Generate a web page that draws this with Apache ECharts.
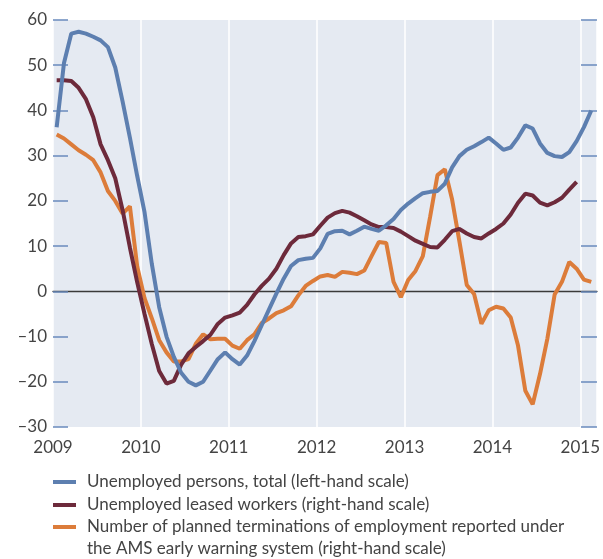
<!DOCTYPE html>
<html>
<head>
<meta charset="utf-8">
<script src="https://cdn.jsdelivr.net/npm/echarts@6/dist/echarts.min.js"></script>
<style>
    html, body { margin: 0; padding: 0; background: #fff; }
    #chart { width: 603px; height: 559px; }
</style>
</head>
<body>
<div id="chart"></div>
<script>
// monthly data, Jan 2009 - Feb 2015
var startYear = 2009;
var monthCount = 74;

var unemployedTotal = [
    36.3, 50.5, 57, 57.4, 57, 56.3, 55.5, 54, 49.5, 42, 34, 25.5,
    17.5, 6, -3.5, -10, -14.5, -18, -20, -20.8, -20, -17.5, -15, -13.5,
    -15, -16.2, -14.2, -11, -7.5, -4, -0.5, 2.8, 5.6, 6.9, 7.2, 7.4,
    9.5, 12.7, 13.3, 13.4, 12.6, 13.4, 14.3, 13.8, 13.4, 14.6, 16, 18,
    19.4, 20.6, 21.7, 22, 22.2, 23.8, 27.4, 29.9, 31.3, 32.1, 33, 34,
    32.7, 31.3, 31.8, 34, 36.7, 36, 32.7, 30.6, 29.9, 29.7, 30.8, 33.2,
    36.3, 40
];

var leasedWorkers = [
    46.7, 46.7, 46.5, 45, 42.5, 38.5, 32.5, 29, 25, 18, 9.7, 2,
    -5, -11.7, -17.6, -20.4, -19.8, -16.2, -13.7, -12.3, -11, -9.6, -7.2, -5.8,
    -5.3, -4.7, -3, -0.7, 1.2, 2.8, 5, 8, 10.6, 12, 12.2, 12.6,
    14.5, 16.3, 17.3, 17.8, 17.4, 16.6, 15.7, 14.8, 14.2, 14.2, 14, 13.2,
    12.2, 11.2, 10.5, 9.8, 9.7, 11.4, 13.3, 13.8, 12.8, 12, 11.7, 12.8,
    13.8, 15, 17, 19.6, 21.6, 21.2, 19.6, 19, 19.7, 20.7, 22.5, 24.2,
    null, null
];

var plannedTerminations = [
    34.7, 33.8, 32.5, 31.2, 30.2, 29, 26.3, 22.2, 20, 17.2, 18.8, 5.5,
    -1.5, -6, -10.8, -13.5, -15.5, -15.5, -15, -11.6, -9.5, -10.6, -10.5, -10.5,
    -12, -12.7, -10.8, -9.5, -7, -6, -4.8, -4.2, -3.3, -0.9, 1.2, 2.3,
    3.3, 3.6, 3.2, 4.3, 4.1, 3.8, 4.6, 7.8, 10.9, 10.7, 2.1, -1.3,
    2.5, 4.5, 7.8, 16.5, 25.7, 27, 20.3, 11, 1.4, -0.6, -7.2, -4.2,
    -3.4, -3.8, -5.8, -12, -22, -25, -18.3, -10.5, -0.7, 2.1, 6.5, 5,
    2.6, 2.1
];

var legendNames = [
    'Unemployed persons, total (left-hand scale)',
    'Unemployed leased workers (right-hand scale)',
    'Number of planned terminations of employment reported under',
    'the AMS early warning system (right-hand scale)'
];

var colors = ['#5d7fb0', '#6d2a3b', '#dc7c3a'];
var fontFamily = 'Lato, "Open Sans", sans-serif';
var textColor = '#444';

// x position of each month = middle of the month, in decimal years
var monthPos = [];
for (var i = 0; i < monthCount; i++) {
    monthPos.push(startYear + (i + 0.5) / 12);
}

function toPoints(values) {
    return values.map(function (v, i) {
        return [monthPos[i], v];
    });
}

var chart = echarts.init(document.getElementById('chart'), null, { renderer: 'canvas' });

var lineDefaults = {
    type: 'line',
    symbol: 'none',
    smooth: false,
    animation: false,
    connectNulls: false
};

chart.setOption({
    backgroundColor: '#fff',
    animation: false,
    grid: {
        show: true,
        left: 53,
        right: 3,
        top: 20,
        bottom: 132,
        backgroundColor: '#e5eaf2',
        borderWidth: 0,
        containLabel: false
    },
    xAxis: [{
        type: 'value',
        min: 2009,
        max: 2015.19,
        interval: 1,
        axisLine: { show: false, onZero: false },
        axisTick: { show: false },
        splitLine: {
            show: true,
            lineStyle: { color: '#fff', width: 1.5 }
        },
        axisLabel: {
            margin: 12,
            color: textColor,
            fontFamily: fontFamily,
            fontSize: 17,
            showMaxLabel: false,
            formatter: function (v) {
                return Math.abs(v - Math.round(v)) < 1e-6 ? String(Math.round(v)) : '';
            }
        }
    }, {
        // zero line
        type: 'value',
        min: 2009,
        max: 2015.19,
        position: 'bottom',
        axisLine: {
            show: true,
            onZero: true,
            onZeroAxisIndex: 0,
            lineStyle: { color: '#3a3a3a', width: 1.3 }
        },
        axisTick: { show: false },
        axisLabel: { show: false },
        splitLine: { show: false }
    }],
    yAxis: [{
        type: 'value',
        min: -30,
        max: 60,
        interval: 10,
        axisLine: { show: false },
        axisTick: {
            show: true,
            inside: true,
            length: 15,
            lineStyle: { color: '#6a8bbd', width: 1.5 }
        },
        splitLine: { show: false },
        axisLabel: {
            margin: 6,
            color: textColor,
            fontFamily: fontFamily,
            fontSize: 17,
            formatter: function (v) {
                return v < 0 ? '\u2013' + Math.abs(v) : String(v);
            }
        }
    }, {
        type: 'value',
        position: 'right',
        min: -30,
        max: 60,
        interval: 10,
        axisLine: { show: false },
        axisTick: {
            show: true,
            inside: true,
            length: 16,
            lineStyle: { color: '#6a8bbd', width: 1.5 }
        },
        splitLine: { show: false },
        axisLabel: { show: false }
    }],
    series: [
        Object.assign({}, lineDefaults, {
            name: legendNames[0],
            yAxisIndex: 0,
            data: toPoints(unemployedTotal),
            lineStyle: { color: colors[0], width: 4 },
            itemStyle: { color: colors[0] },
            z: 4
        }),
        Object.assign({}, lineDefaults, {
            name: legendNames[1],
            yAxisIndex: 1,
            data: toPoints(leasedWorkers),
            lineStyle: { color: colors[1], width: 4 },
            itemStyle: { color: colors[1] },
            z: 3
        }),
        Object.assign({}, lineDefaults, {
            name: legendNames[2],
            yAxisIndex: 1,
            data: toPoints(plannedTerminations),
            lineStyle: { color: colors[2], width: 4 },
            itemStyle: { color: colors[2] },
            z: 2
        })
    ],
    graphic: [
        { type: 'rect', left: 53, top: 480, shape: { width: 23, height: 4 }, style: { fill: colors[0] } },
        { type: 'rect', left: 53, top: 503, shape: { width: 23, height: 4 }, style: { fill: colors[1] } },
        { type: 'rect', left: 53, top: 525, shape: { width: 23, height: 4 }, style: { fill: colors[2] } },
        {
            type: 'text', x: 87, y: 482,
            style: { text: legendNames[0], fill: textColor, font: '17px ' + fontFamily, verticalAlign: 'middle' }
        },
        {
            type: 'text', x: 87, y: 505,
            style: { text: legendNames[1], fill: textColor, font: '17px ' + fontFamily, verticalAlign: 'middle' }
        },
        {
            type: 'text', x: 87, y: 527,
            style: { text: legendNames[2], fill: textColor, font: '17px ' + fontFamily, verticalAlign: 'middle' }
        },
        {
            type: 'text', x: 87, y: 549,
            style: { text: legendNames[3], fill: textColor, font: '17px ' + fontFamily, verticalAlign: 'middle' }
        }
    ]
});
</script>
</body>
</html>
